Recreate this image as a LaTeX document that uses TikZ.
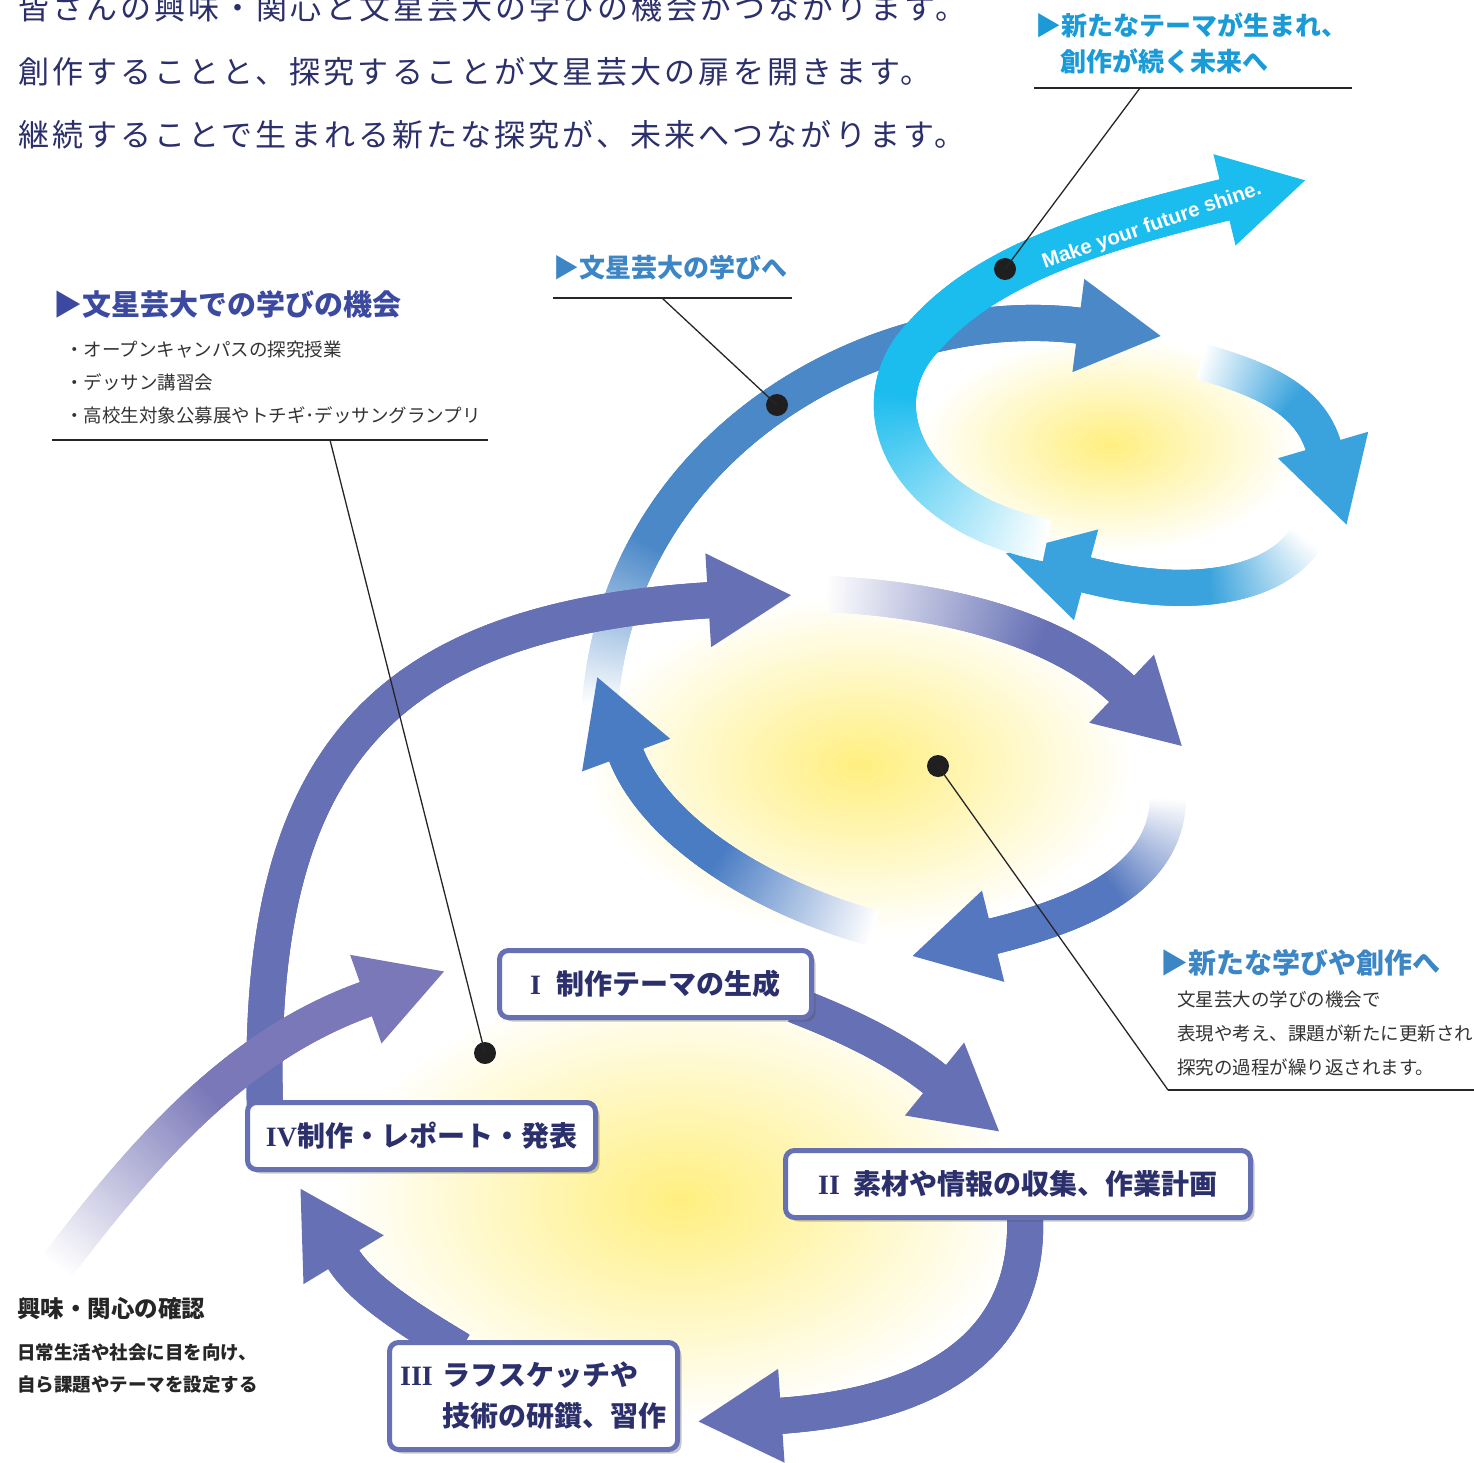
\documentclass[tikz,border=0pt]{standalone}
\usepackage{fontspec}
\setmainfont{Noto Sans CJK JP}
\newfontfamily\numfont{Liberation Serif}
\newfontfamily\mottofont{Liberation Sans}
\usetikzlibrary{decorations.markings,shadows}

\definecolor{navy}{HTML}{2B2F6B}
\definecolor{headIndigo}{HTML}{3B4AA0}
\definecolor{headBlue}{HTML}{3D86C6}
\definecolor{headCyan}{HTML}{1A9BD7}
\definecolor{bandPurple}{HTML}{7A78B8}
\definecolor{bandIndigo}{HTML}{6670B5}
\definecolor{bandBlue}{HTML}{4A88C8}
\definecolor{bandMid}{HTML}{5577BF}
\definecolor{bandDeep}{HTML}{4A7CC4}
\definecolor{bandCyan}{HTML}{1BBCEE}
\definecolor{bandSky}{HTML}{3AA3DD}
\definecolor{glow}{HTML}{FFEF80}
\definecolor{bodyGray}{HTML}{333333}

\pgfdeclarelayer{glow}
\pgfdeclarelayer{bands}
\pgfsetlayers{glow,bands,main}

% thick band that comes in from white, flat head at its end
\newcommand\loopband[4][18]{%
    \path[decorate, decoration={markings,
        mark=between positions 0 and 1 step 1.5pt with {%
            \pgfmathsetmacro\fadepc{100*min(1,\pgfkeysvalueof{/pgf/decoration/mark info/distance from start}/#3)}%
            \fill[#2!\fadepc!white] (-2pt,-#1pt) rectangle (2pt,#1pt);
        }
    }] #4;
    \path[decorate, decoration={markings,
        mark=at position 0.999 with {\fill[#2] (-3pt,-47pt) -- (80pt,0pt) -- (-3pt,47pt) -- cycle;}
    }] #4;
}

\tikzset{
    % boxes
    step-box/.style={
        draw=bandIndigo,
        line width=5pt,
        fill=white,
        rounded corners=9pt,
        drop shadow={shadow xshift=4pt, shadow yshift=-4pt, opacity=.3, fill=black!70},
        text=navy,
        inner sep=0pt,
        font=\bfseries\fontsize{28}{41}\selectfont
    },
    % labels
    intro-text/.style={
        anchor=west,
        inner sep=0pt,
        text=navy,
        font=\fontsize{31}{36}\selectfont\addfontfeature{LetterSpace=10}
    },
    head-text/.style={
        anchor=west,
        inner sep=0pt,
        font=\bfseries\fontsize{26}{30}\selectfont
    },
    body-text/.style={
        anchor=west,
        inner sep=0pt,
        text=bodyGray,
        font=\fontsize{18.5}{22}\selectfont
    },
    % pointers
    lead-line/.style={
        line width=1.3pt,
        draw=black!85
    },
    lead-dot/.style={
        circle,
        fill=black!88,
        minimum size=22pt,
        inner sep=0pt
    }
}

\begin{document}
\begin{tikzpicture}[x=1pt, y=-1pt]
    \useasboundingbox (0,0) rectangle (1474,1462);

    \begin{pgfonlayer}{glow}
        \shade[inner color=glow, outer color=white] (680,1200) ellipse (345 and 220);
        \shade[inner color=glow, outer color=white] (860,765) ellipse (275 and 170);
        \shade[inner color=glow, outer color=white] (1110,445) ellipse (190 and 108);
    \end{pgfonlayer}

    \begin{pgfonlayer}{bands}
        % arc up to the top loop
        \loopband{bandBlue}{170}{(600,705) .. controls (620,440) and (880,300) .. (1082,326)}
        % big arc from IV
        \loopband{bandIndigo}{1}{(265,1110) .. controls (255,760) and (380,620) .. (712,600)}
        % entry
        \loopband{bandPurple}{230}{(58,1265) .. controls (160,1130) and (250,1040) .. (369,998)}
        % I -> II -> III -> IV
        \loopband{bandIndigo}{1}{(795,1005) .. controls (860,1030) and (905,1055) .. (937,1081)}
        \loopband{bandIndigo}{1}{(1025,1215) .. controls (1030,1340) and (940,1405) .. (778,1416)}
        \loopband{bandIndigo}{1}{(460,1350) .. controls (410,1320) and (362,1290) .. (342,1257)}
        % middle loop
        \loopband{bandIndigo}{220}{(828,594) .. controls (950,600) and (1060,630) .. (1124,691)}
        \loopband{bandMid}{110}{(1168,800) .. controls (1165,880) and (1080,915) .. (990,937)}
        \loopband{bandDeep}{170}{(872,928) .. controls (740,890) and (650,820) .. (625,752)}
        % top loop
        \loopband{bandSky}{100}{(1203,362) .. controls (1265,380) and (1310,400) .. (1324,448)}
        \loopband{bandSky}{110}{(1305,540) .. controls (1270,590) and (1180,600) .. (1083,574)}
        \loopband[21]{bandCyan}{230}{(1045,540) .. controls (900,510) and (860,400) .. (925,335) .. controls (990,262) and (1100,230) .. (1228,199)}
    \end{pgfonlayer}

    \node[rotate=19, text=white, font=\mottofont\bfseries\fontsize{20.5}{20.5}\selectfont] (motto) at (1152,226) {Make your future shine.};

    % draw boxes
    \node[step-box, minimum width=312pt, minimum height=67pt] (step-1) at (655.5,984)
        {{\numfont I}\hspace{16pt}制作テーマの生成};
    \node[step-box, minimum width=465pt, minimum height=67pt] (step-2) at (1018,1184)
        {{\numfont II}\hspace{14pt}素材や情報の収集、作業計画};
    \node[step-box, minimum width=288pt, minimum height=107pt, align=left] (step-3) at (533.5,1396)
        {{\numfont III}\hspace{10pt}ラフスケッチや\\\hphantom{\numfont III}\hspace{10pt}技術の研鑽、習作};
    \node[step-box, minimum width=348pt, minimum height=67pt] (step-4) at (421.5,1136)
        {{\numfont IV}制作・レポート・発表};

    % pointers
    \coordinate (rule-future-l) at (1034,88);
    \coordinate (rule-future-r) at (1352,88);
    \coordinate (rule-future) at (1140,88);
    \coordinate (rule-univ-l) at (553,298);
    \coordinate (rule-univ-r) at (792,298);
    \coordinate (rule-univ) at (662,298);
    \coordinate (rule-chance-l) at (52,440);
    \coordinate (rule-chance-r) at (488,440);
    \coordinate (rule-chance) at (330,440);
    \coordinate (rule-next-l) at (1168,1090);
    \coordinate (rule-next-r) at (1474,1090);

    \node[lead-dot] (dot-future) at (1005,269) {};
    \node[lead-dot] (dot-univ) at (777,405) {};
    \node[lead-dot] (dot-chance) at (485,1053) {};
    \node[lead-dot] (dot-next) at (938,766) {};

    \draw[lead-line] (rule-future-l) -- (rule-future-r);
    \draw[lead-line] (rule-univ-l) -- (rule-univ-r);
    \draw[lead-line] (rule-chance-l) -- (rule-chance-r);
    \draw[lead-line] (rule-next-l) -- (rule-next-r);
    \draw[lead-line] (rule-future) -- (dot-future.center);
    \draw[lead-line] (rule-univ) -- (dot-univ.center);
    \draw[lead-line] (rule-chance) -- (dot-chance.center);
    \draw[lead-line] (rule-next-l) -- (dot-next.center);

    % names
    \foreach \txt [count=\i] in {皆さんの興味・関心と文星芸大の学びの機会がつながります。, 創作することと、探究することが文星芸大の扉を開きます。, 継続することで生まれる新たな探究が、未来へつながります。}
        \node[intro-text] (intro-\i) at (18, 8+63.5*\i-63.5) {\txt};

    \node[head-text, text=headCyan] (future-1) at (1035,25) {▶新たなテーマが生まれ、};
    \node[head-text, text=headCyan] (future-2) at (1060,61) {創作が続く未来へ};

    \node[head-text, text=headBlue] (univ) at (553,268) {▶文星芸大の学びへ};

    \node[head-text, text=headIndigo, font=\bfseries\fontsize{29}{34}\selectfont] (chance) at (53,305) {▶文星芸大での学びの機会};
    \foreach \txt [count=\i] in {オープンキャンパスの探究授業, デッサン講習会, 高校生対象公募展やトチギ･デッサングランプリ}
        \node[body-text] (chance-\i) at (65, 350+32.5*\i-32.5) {・\txt};

    \node[head-text, text=headBlue, font=\bfseries\fontsize{28}{34}\selectfont] (next) at (1160,963) {▶新たな学びや創作へ};
    \foreach \txt [count=\i] in {文星芸大の学びの機会で, 表現や考え、課題が新たに更新され, 探究の過程が繰り返されます。}
        \node[body-text] (next-\i) at (1177, 1000+33.5*\i-33.5) {\txt};

    \node[body-text, text=black!85, font=\bfseries\fontsize{23.5}{28}\selectfont] (check) at (17,1309) {興味・関心の確認};
    \node[body-text, text=black!85, font=\bfseries\fontsize{18.5}{22}\selectfont] (check-1) at (17,1352) {日常生活や社会に目を向け、};
    \node[body-text, text=black!85, font=\bfseries\fontsize{18.5}{22}\selectfont] (check-2) at (17,1385) {自ら課題やテーマを設定する};

\end{tikzpicture}
\end{document}
